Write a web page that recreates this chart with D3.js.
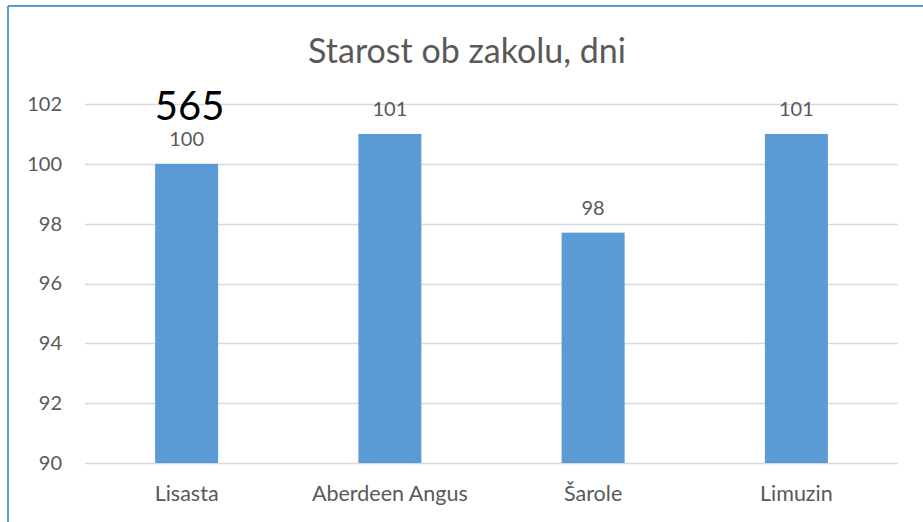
<!DOCTYPE html>
<html>
<head>
<meta charset="utf-8">
<script src="https://cdn.jsdelivr.net/npm/d3@7"></script>
<style>
  body { margin: 0; background: #fff; }
  svg { display: block; font-family: Lato, "Open Sans", sans-serif; }
</style>
</head>
<body>
<svg width="923" height="522"></svg>
<script>
var title = "Starost ob zakolu, dni";
var categories = ["Lisasta", "Aberdeen Angus", "Šarole", "Limuzin"];
var values = [100.0, 101.0, 97.7, 101.0];
var yTicks = [90, 92, 94, 96, 98, 100, 102];
var stray = { category: "Lisasta", text: "565" };

var svg = d3.select('svg');
var grey = '#595959';

// frame lines (only top and left visible)
svg.append('line')
    .attr('x1', 8).attr('x2', 923).attr('y1', 6).attr('y2', 6)
    .attr('stroke', '#5B9BD5').attr('stroke-width', 2);
svg.append('line')
    .attr('x1', 8).attr('x2', 8).attr('y1', 6).attr('y2', 522)
    .attr('stroke', '#5B9BD5').attr('stroke-width', 2);

var x = d3.scaleBand()
    .domain(categories)
    .range([85, 898])
    .paddingInner(0.69)
    .paddingOuter(0.345);

var y = d3.scaleLinear()
    .domain([90, 102])
    .range([463, 104]);

var items = categories.map(function(c, i) { return { name: c, value: values[i] }; });

svg.append('text')
    .attr('x', 467).attr('y', 63)
    .attr('text-anchor', 'middle')
    .attr('font-size', 34)
    .attr('fill', grey)
    .text(title);

// grid
svg.append('g')
    .selectAll('line')
    .data(yTicks).enter()
    .append('line')
    .attr('x1', 85).attr('x2', 898)
    .attr('y1', function(d) { return Math.round(y(d)) + 0.5; })
    .attr('y2', function(d) { return Math.round(y(d)) + 0.5; })
    .attr('stroke', '#D9D9D9')
    .attr('stroke-width', 1.5);

var yAxis = d3.axisLeft(y).tickValues(yTicks).tickSize(0).tickPadding(0);
var gy = svg.append('g')
    .attr('transform', 'translate(62,0)')
    .call(yAxis);
gy.select('.domain').remove();
gy.selectAll('text')
    .attr('font-size', 20)
    .attr('font-family', 'Lato, sans-serif')
    .attr('fill', grey);

svg.selectAll('rect.bar')
    .data(items).enter()
    .append('rect')
    .attr('class', 'bar')
    .attr('x', function(d) { return x(d.name); })
    .attr('width', x.bandwidth())
    .attr('y', function(d) { return y(d.value); })
    .attr('height', function(d) { return y(90) - y(d.value); })
    .attr('fill', '#5B9BD5');

svg.selectAll('text.val')
    .data(items).enter()
    .append('text')
    .attr('class', 'val')
    .attr('x', function(d) { return x(d.name) + x.bandwidth() / 2; })
    .attr('y', function(d) { return y(d.value) - 18; })
    .attr('text-anchor', 'middle')
    .attr('font-size', 20)
    .attr('fill', grey)
    .text(function(d) { return Math.round(d.value); });

var xAxis = d3.axisBottom(x).tickSize(0).tickPadding(0);
var gx = svg.append('g')
    .attr('transform', 'translate(0,' + 481 + ')')
    .call(xAxis);
gx.select('.domain').remove();
gx.selectAll('text')
    .attr('font-size', 21.5)
    .attr('font-family', 'Lato, sans-serif')
    .attr('fill', grey)
    .attr('dy', '0.95em');

svg.append('text')
    .attr('x', x(stray.category) + x.bandwidth() / 2 + 3)
    .attr('y', 120)
    .attr('text-anchor', 'middle')
    .attr('font-size', 40)
    .attr('fill', '#000')
    .text(stray.text);
</script>
</body>
</html>
